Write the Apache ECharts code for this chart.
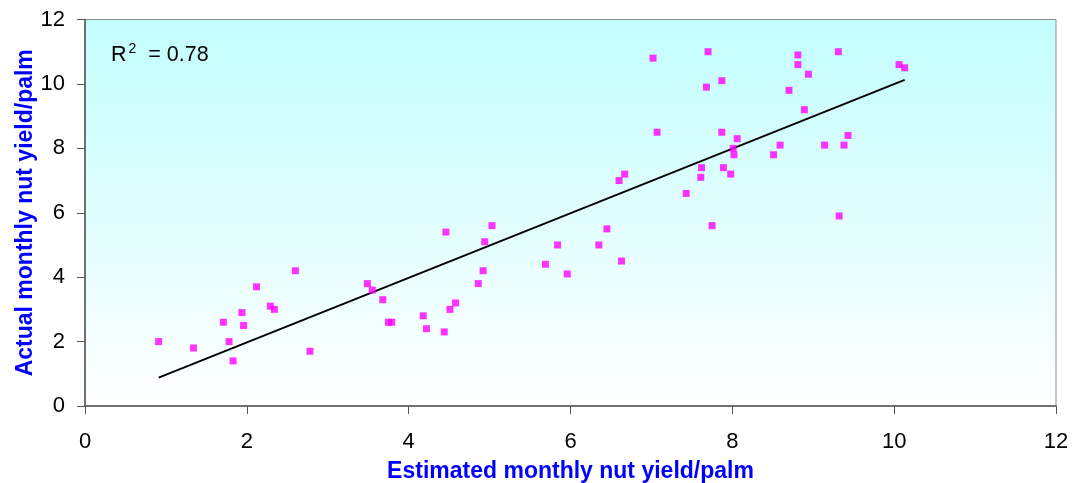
<!DOCTYPE html>
<html>
<head>
<meta charset="utf-8">
<script src="https://cdn.jsdelivr.net/npm/echarts@6/dist/echarts.min.js"></script>
<style>
  html, body { margin: 0; padding: 0; background: #ffffff; }
  #chart { width: 1075px; height: 483px; }
</style>
</head>
<body>
<div id="chart"></div>
<script>
// Estimated vs. actual monthly nut yield per palm
const estimated = [
  0.91, 1.34, 1.71, 1.78, 1.83, 1.94, 1.96, 2.12, 2.29, 2.34, 2.60, 2.78,
  3.49, 3.55, 3.68, 3.75, 3.79, 4.18, 4.22, 4.44, 4.46, 4.51, 4.58, 4.86,
  4.92, 4.94, 5.03, 5.69, 5.84, 5.96, 6.35, 6.45, 6.60, 6.63, 6.67, 7.02,
  7.07, 7.43, 7.61, 7.62, 7.68, 7.70, 7.75, 7.87, 7.87, 7.89, 7.98, 8.01,
  8.02, 8.06, 8.51, 8.59, 8.70, 8.81, 8.81, 8.89, 8.94, 9.14, 9.31, 9.32,
  9.38, 9.43, 10.06, 10.13
];
const actual = [
  2.0, 1.8, 2.6, 2.0, 1.4, 2.9, 2.5, 3.7, 3.1, 3.0, 4.2, 1.7,
  3.8, 3.6, 3.3, 2.6, 2.6, 2.8, 2.4, 2.3, 5.4, 3.0, 3.2, 3.8,
  4.2, 5.1, 5.6, 4.4, 5.0, 4.1, 5.0, 5.5, 7.0, 4.5, 7.2, 10.8,
  8.5, 6.6, 7.1, 7.4, 9.9, 11.0, 5.6, 8.5, 10.1, 7.4, 7.2, 8.0,
  7.8, 8.3, 7.8, 8.1, 9.8, 10.6, 10.9, 9.2, 10.3, 8.1, 11.0, 5.9,
  8.1, 8.4, 10.6, 10.5
];
const xTicks = [0, 2, 4, 6, 8, 10, 12];
const yTicks = [0, 2, 4, 6, 8, 10, 12];
const r2Label = '0.78';

// Least-squares trend line over the range of the estimates
const n = estimated.length;
const mx = estimated.reduce((a, b) => a + b, 0) / n;
const my = actual.reduce((a, b) => a + b, 0) / n;
let sxy = 0, sxx = 0;
for (let i = 0; i < n; i++) {
  sxy += (estimated[i] - mx) * (actual[i] - my);
  sxx += (estimated[i] - mx) * (estimated[i] - mx);
}
const slope = sxy / sxx;
const intercept = my - slope * mx;
const xMin = Math.min(...estimated);
const xMax = Math.max(...estimated);
const trend = [[xMin, intercept + slope * xMin], [xMax, intercept + slope * xMax]];

const points = estimated.map((x, i) => [x, actual[i]]);

const FONT = '"Liberation Sans", Arial, sans-serif';
const chart = echarts.init(document.getElementById('chart'), null, { renderer: 'canvas' });

chart.setOption({
  animation: false,
  backgroundColor: '#ffffff',
  grid: {
    left: 85, right: 19, top: 19.5, bottom: 77,
    outerBoundsMode: 'none',
    containLabel: false,
    show: true,
    borderColor: '#8c8c8c',
    borderWidth: 1,
    backgroundColor: new echarts.graphic.LinearGradient(0, 0, 0, 1, [
      { offset: 0, color: '#c2fdfd' },
      { offset: 1, color: '#ffffff' }
    ])
  },
  xAxis: {
    type: 'value',
    min: xTicks[0], max: xTicks[xTicks.length - 1], interval: 2,
    name: 'Estimated monthly nut yield/palm',
    nameLocation: 'middle',
    nameGap: 54,
    nameTextStyle: { color: '#0000ff', fontFamily: FONT, fontWeight: 'bold', fontSize: 23 },
    axisLine: { show: true, lineStyle: { color: '#555555', width: 1.5 } },
    axisTick: { show: true, length: 8, inside: false, lineStyle: { color: '#555555' } },
    axisLabel: { color: '#000000', fontFamily: FONT, fontSize: 22, margin: 25 },
    splitLine: { show: false }
  },
  yAxis: {
    type: 'value',
    min: yTicks[0], max: yTicks[yTicks.length - 1], interval: 2,
    name: 'Actual monthly nut yield/palm',
    nameLocation: 'middle',
    nameGap: 48,
    nameMoveOverlap: false,
    nameRotate: 90,
    nameTextStyle: { color: '#0000ff', fontFamily: FONT, fontWeight: 'bold', fontSize: 23 },
    axisLine: { show: true, lineStyle: { color: '#555555', width: 1.5 } },
    axisTick: { show: true, length: 8, inside: false, lineStyle: { color: '#555555' } },
    axisLabel: { color: '#000000', fontFamily: FONT, fontSize: 22, margin: 20 },
    splitLine: { show: false }
  },
  series: [
    {
      type: 'scatter',
      data: points,
      symbol: 'rect',
      symbolSize: 7,
      itemStyle: { color: '#ff00ff' },
      z: 3
    },
    {
      type: 'line',
      data: trend,
      symbol: 'none',
      lineStyle: { color: '#000000', width: 2 },
      z: 2
    }
  ],
  graphic: [
    {
      type: 'text',
      left: 111,
      top: 42,
      style: {
        text: '{r|R}{s|2}{r| = ' + r2Label + '}',
        rich: {
          r: { fontFamily: FONT, fontSize: 21.5, fill: '#000000', verticalAlign: 'bottom', lineHeight: 24 },
          s: { fontFamily: FONT, fontSize: 14, fill: '#000000', verticalAlign: 'top', padding: [0, 6, 8, 2], lineHeight: 14 }
        }
      }
    }
  ]
});
</script>
</body>
</html>
